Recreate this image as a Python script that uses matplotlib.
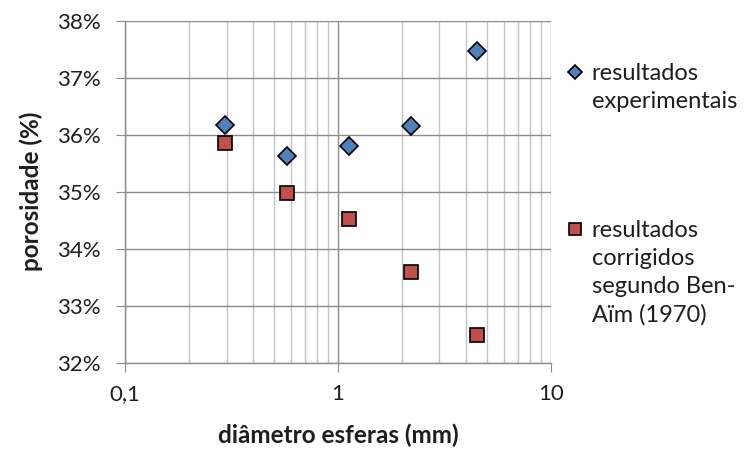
import matplotlib.pyplot as plt
from matplotlib.lines import Line2D
from matplotlib.ticker import FixedLocator, FixedFormatter, NullFormatter, LogLocator

plt.rcParams['font.family'] = ['Lato', 'DejaVu Sans']

# diâmetro das esferas (mm) e porosidades (%)
diametros = [0.294, 0.578, 1.134, 2.21, 4.52]
poros_exp = [36.17, 35.63, 35.81, 36.16, 37.47]
poros_corr = [35.85, 34.97, 34.52, 33.59, 32.49]

x_ticks = [0.1, 1, 10]
x_labels = ["0,1", "1", "10"]
y_ticks = [32, 33, 34, 35, 36, 37, 38]

serie_exp = "resultados\nexperimentais"
serie_corr = "resultados\ncorrigidos\nsegundo Ben-\nAïm (1970)"

azul = "#4f81bd"
vermelho = "#c0504d"
texto = "#1e1e1e"

fig = plt.figure(figsize=(7.49, 4.5), dpi=100)
ax = fig.add_axes([0.1669, 0.194, 0.5684, 0.760])

ax.set_xscale("log")
ax.set_xlim(0.1, 10)
ax.set_ylim(32, 38)

ax.xaxis.set_major_locator(FixedLocator(x_ticks))
ax.xaxis.set_major_formatter(FixedFormatter(x_labels))
ax.xaxis.set_minor_locator(LogLocator(base=10, subs=range(2, 10)))
ax.xaxis.set_minor_formatter(NullFormatter())
ax.set_yticks(y_ticks)
ax.set_yticklabels([f"{v}%" for v in y_ticks])

ax.grid(which="major", color="#8c8c8c", linewidth=1.0)
ax.grid(which="minor", axis="x", color="#c4c4c4", linewidth=1.0)
ax.set_axisbelow(True)

for s in ["top", "right"]:
    ax.spines[s].set_visible(False)
for s in ["left", "bottom"]:
    ax.spines[s].set_color("#8c8c8c")
    ax.spines[s].set_linewidth(1.0)

ax.tick_params(which="major", direction="out", length=6.5, color="#8c8c8c",
               labelsize=16, labelcolor=texto)
ax.tick_params(axis="y", pad=11)
ax.tick_params(axis="x", pad=9)
ax.tick_params(which="minor", length=0)

ax.plot(diametros, poros_exp, linestyle="none", marker="D", markersize=9.0,
        markerfacecolor=azul, markeredgecolor="black", markeredgewidth=1.2,
        zorder=3)
ax.plot(diametros, poros_corr, linestyle="none", marker="s", markersize=9.5,
        markerfacecolor=vermelho, markeredgecolor="black", markeredgewidth=1.2,
        zorder=3)

ax.set_xlabel("diâmetro esferas (mm)", fontsize=17.5, fontweight="bold",
              color=texto, labelpad=14)
ax.set_ylabel("porosidade (%)", fontsize=17.5, fontweight="bold",
              color=texto, labelpad=10)

# legenda à direita, com o marcador alinhado à primeira linha do texto
legenda = [
    ("D", 7.5, azul, serie_exp, 0.840),
    ("s", 8.0, vermelho, serie_corr, 0.491),
]
for marcador, tam, cor, rotulo, y in legenda:
    fig.add_artist(Line2D([0.768], [y], transform=fig.transFigure,
                          marker=marcador, markersize=tam, linestyle="none",
                          markerfacecolor=cor, markeredgecolor="black",
                          markeredgewidth=1.2))
    fig.text(0.790, y + 0.021, rotulo, fontsize=17, color=texto,
             va="top", ha="left", linespacing=1.42)

fig.savefig("out.png", dpi=100)
